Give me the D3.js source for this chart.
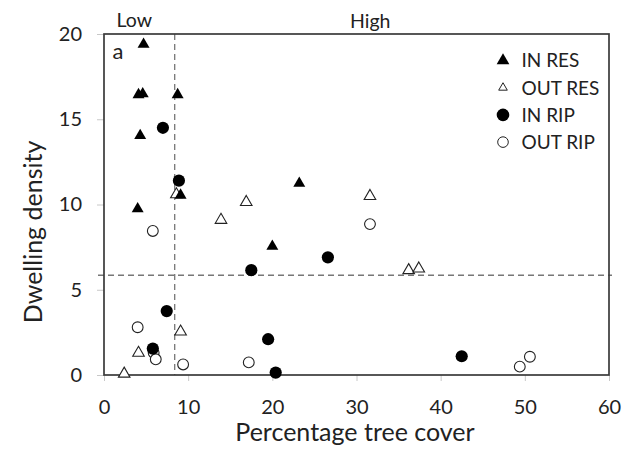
<!DOCTYPE html>
<html>
<head>
<meta charset="utf-8">
<script src="https://cdn.jsdelivr.net/npm/d3@7"></script>
<style>
  body { margin: 0; background: #fff; }
  text { font-family: Lato, "Open Sans", sans-serif; fill: #222; }
</style>
</head>
<body>
<svg id="chart" width="625" height="453"></svg>
<script>
// data: [percentage tree cover, dwelling density]
var inRes = [[4.7, 19.45], [4.1, 16.5], [4.6, 16.55], [8.75, 16.5], [4.3, 14.1],
             [4.0, 9.8], [9.1, 10.6], [20.0, 7.6], [23.2, 11.3]];
var outRes = [[16.9, 10.2], [13.9, 9.15], [9.1, 2.6], [4.1, 1.35], [2.4, 0.13],
              [31.6, 10.55], [36.2, 6.2], [37.4, 6.3], [8.6, 10.65]];
var inRip = [[7.0, 14.5], [8.9, 11.4], [17.5, 6.15], [7.45, 3.75], [5.8, 1.55],
             [19.5, 2.1], [20.4, 0.14], [26.6, 6.9], [42.5, 1.1]];
var outRip = [[5.8, 8.45], [4.0, 2.8], [5.9, 1.3], [6.15, 0.92], [9.4, 0.62],
              [17.2, 0.74], [31.6, 8.85], [49.4, 0.49], [50.6, 1.07]];

var xTicks = [0, 10, 20, 30, 40, 50, 60];
var yTicks = [0, 5, 10, 15, 20];
var thresholdX = 8.4;   // low / high split
var thresholdY = 5.85;
var seriesNames = ['IN RES', 'OUT RES', 'IN RIP', 'OUT RIP'];

var svg = d3.select('#chart');
var margin = {top: 34, right: 16, bottom: 78, left: 104};
var width = 625 - margin.left - margin.right,
    height = 453 - margin.top - margin.bottom;

var xScale = d3.scaleLinear().domain([0, 60]).range([margin.left, margin.left + width]);
var yScale = d3.scaleLinear().domain([0, 20]).range([margin.top + height, margin.top]);

// axes
var xAxis = d3.axisBottom(xScale).tickValues(xTicks).tickSize(6).tickPadding(19);
var yAxis = d3.axisLeft(yScale).tickValues(yTicks).tickSize(7).tickPadding(15);

var gx = svg.append('g')
    .attr('transform', 'translate(0,' + (margin.top + height) + ')')
    .call(xAxis);
var gy = svg.append('g')
    .attr('transform', 'translate(' + margin.left + ',0)')
    .call(yAxis);
[gx, gy].forEach(function(g) {
    g.select('.domain').remove();
    g.selectAll('.tick line').attr('stroke', '#c8c8c8');
    g.selectAll('.tick text').style('font-size', '20px').style('font-family', 'Lato, sans-serif').attr('fill', '#222');
});

// dashed threshold lines
svg.append('line')
    .attr('x1', xScale(thresholdX)).attr('x2', xScale(thresholdX))
    .attr('y1', yScale(20)).attr('y2', yScale(0))
    .attr('stroke', '#777').attr('stroke-width', 1.3).attr('stroke-dasharray', '6,4');
svg.append('line')
    .attr('x1', margin.left - 6).attr('x2', xScale(60) + 3)
    .attr('y1', yScale(thresholdY)).attr('y2', yScale(thresholdY))
    .attr('stroke', '#777').attr('stroke-width', 1.3).attr('stroke-dasharray', '6,4');

// frame
svg.append('rect')
    .attr('x', margin.left).attr('y', margin.top)
    .attr('width', width).attr('height', height)
    .attr('fill', 'none').attr('stroke', '#3a3a3a').attr('stroke-width', 1.7);

var triangle = d3.symbol().type(d3.symbolTriangle);

function drawTriangles(data, filled) {
    svg.append('g').selectAll('path').data(data).enter().append('path')
        .attr('d', triangle.size(filled ? 62 : 58)())
        .attr('transform', function(d) {
            return 'translate(' + xScale(d[0]) + ',' + (yScale(d[1]) + 1) + ')';
        })
        .attr('fill', filled ? '#000' : '#fff')
        .attr('stroke', filled ? 'none' : '#222')
        .attr('stroke-width', 1.1);
}
function drawCircles(data, filled) {
    svg.append('g').selectAll('circle').data(data).enter().append('circle')
        .attr('cx', function(d) { return xScale(d[0]); })
        .attr('cy', function(d) { return yScale(d[1]); })
        .attr('r', filled ? 6.1 : 5.4)
        .attr('fill', filled ? '#000' : '#fff')
        .attr('stroke', filled ? 'none' : '#222')
        .attr('stroke-width', 1.1);
}
drawTriangles(outRes, false);
drawCircles(outRip, false);
drawTriangles(inRes, true);
drawCircles(inRip, true);

// legend
var legend = svg.append('g');
seriesNames.forEach(function(name, i) {
    var ly = 60.5 + i * 27.2;
    var g = legend.append('g').attr('transform', 'translate(503,' + ly + ')');
    if (i == 0) {
        g.append('path').attr('d', d3.symbol().type(d3.symbolTriangle).size(70)()).attr('fill', '#000');
    } else if (i == 1) {
        g.append('path').attr('d', d3.symbol().type(d3.symbolTriangle).size(32)())
            .attr('fill', '#fff').attr('stroke', '#222').attr('stroke-width', 1);
    } else if (i == 2) {
        g.append('circle').attr('r', 6.3).attr('fill', '#000');
    } else {
        g.append('circle').attr('r', 5.3).attr('fill', '#fff').attr('stroke', '#222').attr('stroke-width', 1);
    }
    g.append('text').attr('x', 18.5).attr('y', 6.8).style('font-size', '19px').text(name);
});

// labels
svg.append('text').attr('x', 116.5).attr('y', 27).style('font-size', '19.5px').text('Low');
svg.append('text').attr('x', 350).attr('y', 27.5).style('font-size', '19.5px').text('High');
svg.append('text').attr('x', 112.5).attr('y', 59).style('font-size', '22px').text('a');

svg.append('text')
    .attr('x', 355).attr('y', 441)
    .attr('text-anchor', 'middle')
    .style('font-size', '25px')
    .text('Percentage tree cover');
svg.append('text')
    .attr('transform', 'translate(42,232) rotate(-90)')
    .attr('text-anchor', 'middle')
    .style('font-size', '25px')
    .text('Dwelling density');
</script>
</body>
</html>
